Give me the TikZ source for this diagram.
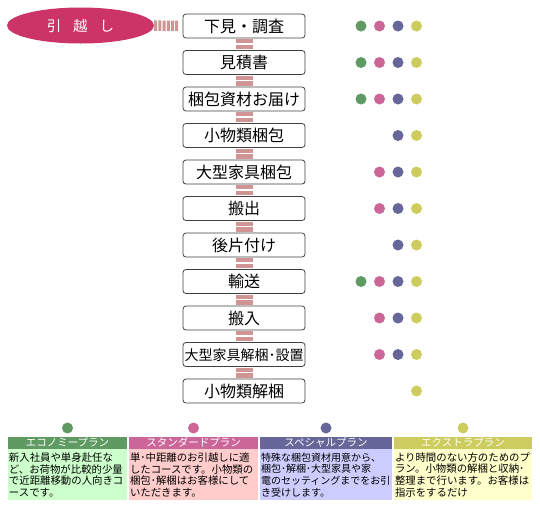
\documentclass[tikz,border=0pt]{standalone}
\usepackage{fontspec}
\setmainfont{Noto Sans CJK JP}
\usetikzlibrary{positioning,shapes.geometric}

\definecolor{moveRed}{HTML}{CC3366}
\definecolor{rungPink}{HTML}{D09494}
\definecolor{plan1}{HTML}{5F9A62}
\definecolor{plan2}{HTML}{CC6699}
\definecolor{plan3}{HTML}{666699}
\definecolor{plan4}{HTML}{CCCC5F}
\definecolor{pale1}{HTML}{CCFFCC}
\definecolor{pale2}{HTML}{FFCCCC}
\definecolor{pale3}{HTML}{CCCCFF}
\definecolor{pale4}{HTML}{FFFFCC}

\begin{document}
\begin{tikzpicture}[x=1pt, y=-1pt,
  stage/.style={draw=black!75, line width=0.8pt, rounded corners=3pt, fill=white,
    minimum width=122pt, minimum height=24pt, inner sep=0pt,
    text height=14pt, text depth=2pt, font=\fontsize{16}{16}\selectfont},
  rungs/.style={draw=rungPink, line width=17pt, dash pattern=on 4.3pt off 1.5pt,
    shorten <=0.7pt},
  hrungs/.style={draw=rungPink, line width=10.5pt, dash pattern=on 3pt off 1.2pt,
    shorten >=4pt},
  plandot/.style={circle, inner sep=0pt, minimum size=11pt},
  planhead/.style={minimum height=11.5pt, inner sep=0pt, text=white,
    text height=8.5pt, text depth=1.5pt, font=\fontsize{10.5}{10.5}\selectfont},
  planbody/.style={inner xsep=1pt, inner ysep=2.5pt, minimum height=51pt,
    align=left, font=\fontsize{10.4}{11.6}\selectfont},
  node distance=11.7pt,
]
  \useasboundingbox (0,0) rectangle (540,512);

  % --- start ---------------------------------------------------------
  \node[ellipse, fill=moveRed, minimum width=147pt, minimum height=36pt, text=white,
    font=\fontsize{14.5}{14.5}\selectfont] (move) at (80.5,25.5) {引\hspace{12pt}越\hspace{12pt}し};

  % --- stages ------------------------------------------------------
  \node[stage] (s1) at (244,26) {下見・調査};
  \node[stage, below=of s1]  (s2)  {見積書};
  \node[stage, below=of s2]  (s3)  {梱包資材お届け};
  \node[stage, below=of s3]  (s4)  {小物類梱包};
  \node[stage, below=of s4]  (s5)  {大型家具梱包};
  \node[stage, below=of s5]  (s6)  {搬出};
  \node[stage, below=of s6]  (s7)  {後片付け};
  \node[stage, below=of s7]  (s8)  {輸送};
  \node[stage, below=of s8]  (s9)  {搬入};
  \node[stage, below=of s9]  (s10) {\fontsize{14}{14}\selectfont 大型家具解梱･設置};
  \node[stage, below=of s10] (s11) {小物類解梱};

  % --- connectors ----------------------------------------------------
  \draw[hrungs] (move) -- (s1);
  \foreach \a/\b in {1/2,2/3,3/4,4/5,5/6,6/7,7/8,8/9,9/10,10/11}
    \draw[rungs] (s\a) -- (s\b);

  % --- plan dots per stage ---------------------------------------
  \foreach \r/\cs in {1/{1,2,3,4}, 2/{1,2,3,4}, 3/{1,2,3,4}, 4/{3,4}, 5/{2,3,4},
      6/{2,3,4}, 7/{3,4}, 8/{1,2,3,4}, 9/{2,3,4}, 10/{2,3,4}, 11/{4}}
    \foreach \c in \cs
      \node[plandot, fill=plan\c] (d\r-\c) at ({342.5+18.5*\c}, {26+36.5*(\r-1)}) {};

  % --- legend --------------------------------------------------------
  \node[plandot, fill=plan1] (ld1) at (67.5,428) {};
  \node[plandot, fill=plan2] (ld2) at (193.5,428) {};
  \node[plandot, fill=plan3] (ld3) at (326,428) {};
  \node[plandot, fill=plan4] (ld4) at (463,428) {};

  \node[planhead, fill=plan1, minimum width=119pt, below=3.5pt of ld1] (h1) {エコノミープラン};
  \node[planhead, fill=plan2, minimum width=129pt, below=3.5pt of ld2] (h2) {スタンダードプラン};
  \node[planhead, fill=plan3, minimum width=132pt, below=3.5pt of ld3] (h3) {スペシャルプラン};
  \node[planhead, fill=plan4, minimum width=138pt, below=3.5pt of ld4] (h4) {エクストラプラン};

  \node[planbody, fill=pale1, text width=117pt, below=0pt of h1] (b1) {%
    新入社員や単身赴任な\\ど、お荷物が比較的少量\\で近距離移動の人向きコ\\ースです。};
  \node[planbody, fill=pale2, text width=127pt, below=0pt of h2] (b2) {%
    単･中距離のお引越しに適\\したコースです。小物類の\\梱包･解梱はお客様にして\\いただきます。};
  \node[planbody, fill=pale3, text width=130pt, below=0pt of h3,
    font=\fontsize{10}{11.6}\selectfont] (b3) {%
    特殊な梱包資材用意から、\\梱包･解梱･大型家具や家\\電のセッティングまでをお引\\き受けします。};
  \node[planbody, fill=pale4, text width=136pt, below=0pt of h4] (b4) {%
    より時間のない方のためのプ\\ラン。小物類の解梱と収納･\\整理まで行います。お客様は\\指示をするだけ};
\end{tikzpicture}
\end{document}
